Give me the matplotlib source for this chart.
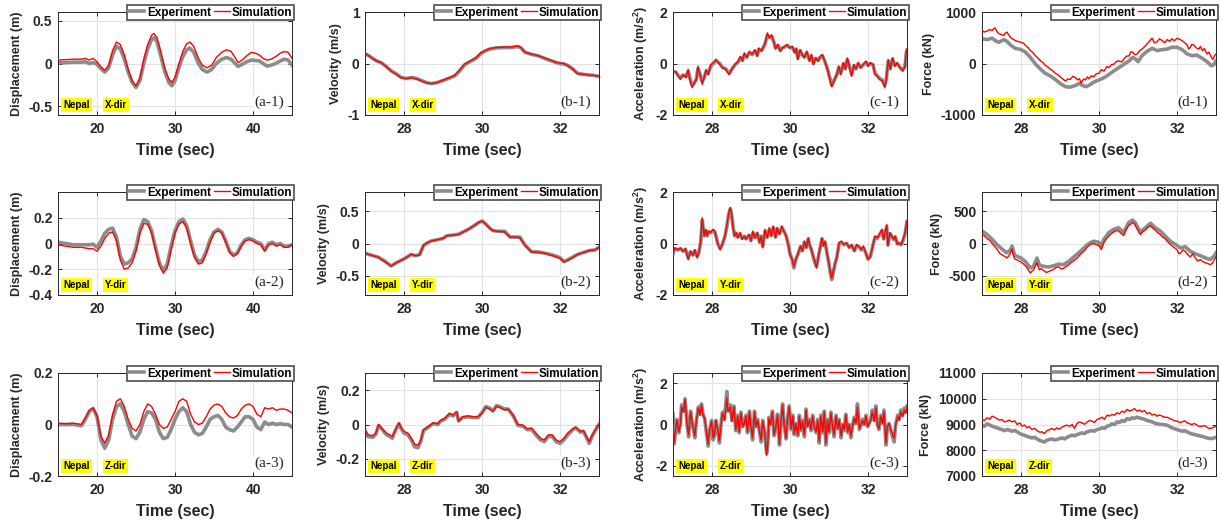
import matplotlib
matplotlib.use('Agg')
import matplotlib.pyplot as plt
from matplotlib.ticker import FuncFormatter

plt.rcParams['font.family'] = ['Liberation Sans', 'DejaVu Sans']
plt.rcParams['font.weight'] = 'bold'
plt.rcParams['axes.labelweight'] = 'bold'
plt.rcParams['axes.unicode_minus'] = False
plt.rcParams['mathtext.fontset'] = 'custom'
plt.rcParams['mathtext.bf'] = 'Liberation Sans:bold'
plt.rcParams['mathtext.default'] = 'bf'

# ---------------- data ----------------
# displacement, X dir
t_a1 = [15, 16, 17, 18, 18.5, 19, 19.5, 20, 20.5, 21, 21.5, 22, 22.5, 23, 23.5, 24, 24.5, 25, 25.5,
        26, 26.5, 27, 27.3, 27.7, 28.2, 28.7, 29.2, 29.6, 30, 30.5, 31, 31.5, 31.9, 32.4, 33, 33.5,
        34.1, 34.7, 35.3, 36, 36.6, 37.2, 37.7, 38.1, 38.6, 39.2, 39.8, 40.3, 40.8, 41.3, 41.8, 42.3,
        42.9, 43.5, 44, 44.5, 45]
exp_a1 = [0.01, 0.01, 0.015, 0.015, 0.02, 0.0, 0.01, -0.01, -0.06, -0.1, -0.05, 0.1, 0.2, 0.17, 0.05,
          -0.1, -0.22, -0.28, -0.2, 0.0, 0.17, 0.28, 0.3, 0.25, 0.08, -0.1, -0.22, -0.26, -0.2, -0.05,
          0.08, 0.16, 0.18, 0.13, 0.0, -0.07, -0.1, -0.07, 0.0, 0.05, 0.07, 0.05, 0.0, -0.035, -0.01,
          0.02, 0.04, 0.035, 0.03, 0.0, -0.03, -0.02, 0.0, 0.03, 0.05, 0.04, -0.02]
sim_a1 = [0.04, 0.045, 0.05, 0.05, 0.06, 0.04, 0.06, 0.02, -0.04, -0.08, -0.02, 0.15, 0.25, 0.22, 0.1,
          -0.07, -0.2, -0.26, -0.17, 0.05, 0.22, 0.33, 0.35, 0.3, 0.13, -0.06, -0.18, -0.22, -0.16, 0.0,
          0.14, 0.23, 0.25, 0.2, 0.06, -0.02, -0.05, -0.02, 0.07, 0.13, 0.16, 0.14, 0.07, 0.01, 0.04,
          0.09, 0.13, 0.12, 0.1, 0.06, 0.04, 0.05, 0.08, 0.12, 0.14, 0.13, 0.06]

# displacement, Y and Z dir
t_a23 = [15, 16, 17, 18, 18.5, 19, 19.5, 20, 20.5, 21, 21.5, 22, 22.5, 23, 23.5, 24, 24.5, 25, 25.5,
         26, 26.5, 27, 27.5, 28, 28.5, 29, 29.5, 30, 30.5, 31, 31.5, 32, 32.5, 33, 33.5, 34, 34.5,
         35, 35.5, 36, 36.5, 37, 37.5, 38, 38.5, 39, 39.5, 40, 40.5, 41, 41.5, 42, 42.5, 43, 43.5,
         44, 44.5, 45]
exp_a2 = [0.01, 0.0, -0.01, -0.01, -0.01, -0.01, -0.005, -0.03, 0.02, 0.08, 0.11, 0.12, 0.05, -0.1,
          -0.16, -0.15, -0.12, -0.03, 0.11, 0.185, 0.17, 0.1, -0.03, -0.15, -0.21, -0.16, -0.02, 0.1,
          0.17, 0.19, 0.14, 0.02, -0.09, -0.14, -0.13, -0.06, 0.03, 0.09, 0.11, 0.09, 0.02, -0.06,
          -0.09, -0.07, -0.01, 0.03, 0.04, 0.03, 0.01, 0.0, -0.05, 0.0, 0.01, -0.01, 0.0, -0.02,
          -0.02, -0.01]
sim_a2 = [-0.01, -0.02, -0.03, -0.03, -0.035, -0.04, -0.04, -0.06, -0.02, 0.04, 0.08, 0.09, 0.02, -0.13,
          -0.2, -0.19, -0.15, -0.06, 0.08, 0.155, 0.15, 0.08, -0.05, -0.17, -0.23, -0.19, -0.05, 0.08,
          0.15, 0.17, 0.12, 0.0, -0.11, -0.16, -0.15, -0.08, 0.01, 0.08, 0.1, 0.08, 0.01, -0.07,
          -0.1, -0.08, -0.02, 0.02, 0.03, 0.02, 0.0, -0.01, -0.06, -0.01, 0.0, -0.02, -0.01, -0.03,
          -0.03, -0.01]
exp_a3 = [0.0, 0.0, 0.0, -0.005, 0.02, 0.05, 0.062, 0.03, -0.06, -0.092, -0.06, 0.02, 0.07, 0.08, 0.05,
          0.0, -0.045, -0.055, -0.03, 0.02, 0.05, 0.045, 0.02, -0.03, -0.055, -0.05, -0.02, 0.02, 0.05,
          0.065, 0.05, 0.0, -0.03, -0.04, -0.035, -0.01, 0.02, 0.03, 0.035, 0.02, -0.01, -0.02, -0.025,
          -0.01, 0.01, 0.03, 0.03, 0.02, -0.01, -0.02, 0.01, 0.0, 0.005, 0.0, 0.003, 0.0, 0.0, -0.01]
sim_a3 = [0.005, 0.003, 0.005, 0.0, 0.025, 0.055, 0.065, 0.035, -0.045, -0.072, -0.04, 0.04, 0.09, 0.1,
          0.07, 0.02, -0.015, -0.025, 0.0, 0.05, 0.08, 0.07, 0.04, 0.0, -0.015, -0.01, 0.02, 0.05, 0.09,
          0.1, 0.09, 0.04, 0.01, 0.0, 0.005, 0.03, 0.06, 0.075, 0.08, 0.07, 0.045, 0.03, 0.025, 0.035,
          0.06, 0.075, 0.08, 0.07, 0.04, 0.03, 0.065, 0.06, 0.065, 0.055, 0.06, 0.06, 0.055, 0.045]

# velocity
t_b1 = [27.0, 27.1, 27.2, 27.3, 27.42, 27.55, 27.67, 27.8, 27.93, 28.05, 28.2, 28.32, 28.45, 28.58,
        28.7, 28.85, 29.04, 29.18, 29.3, 29.42, 29.55, 29.7, 29.85, 29.98, 30.1, 30.2, 30.35, 30.55,
        30.75, 30.92, 31.0, 31.1, 31.25, 31.44, 31.6, 31.78, 31.9, 32.0, 32.1, 32.2, 32.32, 32.45,
        32.6, 32.7, 32.85, 33.0]
exp_b1 = [0.19, 0.15, 0.1, 0.05, 0.01, -0.06, -0.14, -0.2, -0.27, -0.29, -0.27, -0.29, -0.33, -0.37,
          -0.39, -0.37, -0.32, -0.28, -0.24, -0.15, -0.03, 0.04, 0.1, 0.2, 0.25, 0.28, 0.3, 0.31, 0.31,
          0.33, 0.3, 0.22, 0.18, 0.15, 0.1, 0.05, 0.02, 0.0, -0.01, -0.04, -0.1, -0.19, -0.21, -0.22,
          -0.23, -0.25]
sim_b1 = [0.2, 0.15, 0.09, 0.05, 0.02, -0.07, -0.15, -0.21, -0.28, -0.29, -0.28, -0.3, -0.34, -0.38,
          -0.39, -0.37, -0.31, -0.27, -0.23, -0.13, -0.01, 0.05, 0.12, 0.21, 0.26, 0.29, 0.31, 0.32,
          0.32, 0.34, 0.31, 0.22, 0.19, 0.15, 0.11, 0.06, 0.02, 0.01, 0.0, -0.04, -0.11, -0.2, -0.21,
          -0.22, -0.23, -0.25]

t_b2 = [27.0, 27.15, 27.33, 27.5, 27.67, 27.8, 28.0, 28.18, 28.3, 28.4, 28.5, 28.6, 28.7, 28.87, 29.0,
        29.1, 29.25, 29.4, 29.52, 29.65, 29.78, 29.9, 30.0, 30.1, 30.2, 30.28, 30.4, 30.58, 30.66,
        30.72, 30.85, 30.97, 31.1, 31.27, 31.45, 31.6, 31.75, 31.87, 32.0, 32.1, 32.27, 32.45, 32.6,
        32.75, 32.9, 33.0]
exp_b2 = [-0.15, -0.18, -0.21, -0.27, -0.35, -0.3, -0.24, -0.17, -0.19, -0.17, -0.03, 0.01, 0.04, 0.06,
          0.08, 0.12, 0.13, 0.145, 0.18, 0.22, 0.27, 0.32, 0.35, 0.3, 0.24, 0.2, 0.19, 0.19, 0.14, 0.1,
          0.1, 0.1, -0.02, -0.13, -0.13, -0.15, -0.17, -0.19, -0.22, -0.28, -0.23, -0.17, -0.14,
          -0.11, -0.1, -0.06]
sim_b2 = [-0.15, -0.18, -0.21, -0.28, -0.35, -0.3, -0.24, -0.17, -0.19, -0.18, -0.03, 0.01, 0.04, 0.06,
          0.08, 0.12, 0.13, 0.14, 0.18, 0.22, 0.27, 0.32, 0.35, 0.3, 0.23, 0.2, 0.19, 0.18, 0.13, 0.1,
          0.1, 0.09, -0.03, -0.13, -0.14, -0.15, -0.18, -0.2, -0.23, -0.29, -0.24, -0.17, -0.14,
          -0.11, -0.1, -0.06]

t_b3 = [27.0, 27.07, 27.2, 27.28, 27.35, 27.46, 27.55, 27.63, 27.7, 27.78,
        27.87, 27.93, 28.0, 28.1, 28.2, 28.27, 28.36, 28.43, 28.5, 28.6,
        28.66, 28.75, 28.87, 28.94, 29.04, 29.17, 29.26, 29.35, 29.4, 29.5,
        29.64, 29.77, 29.9, 30.0, 30.1, 30.2, 30.28, 30.37, 30.45, 30.58,
        30.67, 30.8, 30.92, 31.05, 31.16, 31.27, 31.4, 31.5, 31.6, 31.7,
        31.8, 31.9, 32.0, 32.1, 32.2, 32.33, 32.4, 32.53, 32.6, 32.75,
        32.83, 32.92, 33.0]
exp_b3 = [-0.035, -0.07, -0.075, -0.055, -0.005, -0.035, -0.06, -0.07, -0.08, -0.035,
          0.005, -0.025, -0.05, -0.06, -0.095, -0.13, -0.135, -0.1, -0.035, -0.02,
          -0.01, 0.005, 0.0, 0.02, 0.03, 0.06, 0.05, 0.07, 0.02, 0.04,
          0.045, 0.04, 0.04, 0.07, 0.105, 0.095, 0.08, 0.11, 0.105, 0.09,
          0.09, 0.05, -0.005, -0.01, -0.03, -0.03, -0.065, -0.09, -0.1, -0.07,
          -0.07, -0.1, -0.11, -0.09, -0.06, -0.03, -0.02, -0.045, -0.04, -0.11,
          -0.065, -0.03, 0.0]
sim_b3 = [-0.03, -0.06, -0.065, -0.05, 0.0, -0.03, -0.05, -0.06, -0.07, -0.03,
          0.01, -0.02, -0.04, -0.05, -0.085, -0.115, -0.12, -0.09, -0.03, -0.015,
          -0.005, 0.01, 0.005, 0.025, 0.035, 0.065, 0.055, 0.075, 0.02, 0.045,
          0.05, 0.045, 0.045, 0.065, 0.1, 0.09, 0.075, 0.105, 0.1, 0.085,
          0.09, 0.055, 0.0, -0.004, -0.025, -0.02, -0.055, -0.08, -0.09, -0.06,
          -0.06, -0.09, -0.1, -0.08, -0.05, -0.025, -0.015, -0.04, -0.035, -0.1,
          -0.06, -0.025, 0.0]

# acceleration
t_c1 = [27.0, 27.08, 27.13, 27.19, 27.26, 27.33, 27.39, 27.43, 27.49, 27.55,
        27.6, 27.64, 27.7, 27.75, 27.8, 27.85, 27.9, 27.97, 28.07, 28.1,
        28.2, 28.27, 28.35, 28.44, 28.5, 28.59, 28.67, 28.73, 28.78, 28.83,
        28.89, 28.96, 29.03, 29.1, 29.16, 29.2, 29.27, 29.36, 29.42, 29.47,
        29.53, 29.59, 29.63, 29.69, 29.75, 29.8, 29.87, 29.93, 29.99, 30.06,
        30.12, 30.16, 30.2, 30.26, 30.31, 30.37, 30.43, 30.5, 30.55, 30.6,
        30.66, 30.72, 30.78, 30.83, 30.89, 30.96, 31.03, 31.07, 31.13, 31.2,
        31.25, 31.3, 31.37, 31.42, 31.47, 31.52, 31.58, 31.64, 31.69, 31.75,
        31.81, 31.88, 31.95, 32.0, 32.06, 32.13, 32.18, 32.24, 32.3, 32.37,
        32.43, 32.47, 32.52, 32.57, 32.63, 32.69, 32.75, 32.82, 32.89, 32.95,
        32.98, 33.0]
exp_c1 = [-0.3, -0.35, -0.45, -0.55, -0.45, -0.5, -0.3, -0.55, -0.85, -0.75,
          -0.6, -0.2, -0.45, -0.7, -0.55, -0.3, -0.4, -0.1, 0.05, 0.12,
          0.0, -0.15, -0.2, -0.38, -0.25, -0.05, 0.05, 0.22, 0.12, 0.35,
          0.25, 0.42, 0.35, 0.48, 0.32, 0.55, 0.5, 0.75, 1.1, 1.0,
          1.05, 0.82, 0.6, 0.7, 0.5, 0.6, 0.65, 0.7, 0.62, 0.62,
          0.45, 0.55, 0.2, 0.5, 0.35, 0.25, 0.42, 0.12, 0.3, 0.0,
          0.2, 0.12, 0.25, 0.3, 0.1, -0.2, -0.6, -0.85, -0.65, -0.45,
          -0.15, -0.38, 0.0, -0.2, 0.15, -0.1, -0.42, -0.08, -0.2, 0.0,
          -0.15, -0.05, 0.05, -0.08, 0.0, -0.05, -0.38, -0.48, -0.58, -0.65,
          -0.85, -0.6, 0.1, -0.2, 0.18, -0.08, 0.0, -0.15, -0.25, -0.12,
          0.4, 0.5]
sim_c1 = [-0.3, -0.33, -0.5, -0.62, -0.43, -0.55, -0.23, -0.62, -0.94, -0.75,
          -0.62, -0.1, -0.5, -0.81, -0.55, -0.23, -0.43, -0.04, 0.09, 0.15,
          -0.04, -0.17, -0.23, -0.43, -0.23, -0.04, 0.09, 0.28, 0.09, 0.41,
          0.22, 0.48, 0.35, 0.54, 0.28, 0.6, 0.48, 0.8, 1.19, 1.0,
          1.12, 0.8, 0.57, 0.74, 0.48, 0.6, 0.67, 0.74, 0.6, 0.67,
          0.41, 0.6, 0.15, 0.54, 0.35, 0.22, 0.48, 0.09, 0.35, -0.04,
          0.22, 0.09, 0.28, 0.35, 0.09, -0.23, -0.68, -0.9, -0.68, -0.43,
          -0.1, -0.43, 0.03, -0.23, 0.22, -0.1, -0.5, -0.04, -0.23, 0.03,
          -0.17, -0.04, 0.09, -0.1, 0.03, -0.04, -0.43, -0.5, -0.62, -0.68,
          -0.94, -0.62, 0.15, -0.23, 0.22, -0.1, 0.03, -0.17, -0.3, -0.1,
          0.48, 0.57]

t_c2 = [27.0, 27.04, 27.13, 27.19, 27.26, 27.32, 27.39, 27.45, 27.51, 27.56,
        27.62, 27.67, 27.71, 27.75, 27.8, 27.84, 27.88, 27.91, 27.96, 28.03,
        28.07, 28.1, 28.15, 28.21, 28.26, 28.33, 28.38, 28.43, 28.47, 28.5,
        28.54, 28.58, 28.62, 28.66, 28.72, 28.77, 28.83, 28.87, 28.95, 29.0,
        29.05, 29.1, 29.16, 29.22, 29.26, 29.3, 29.36, 29.42, 29.47, 29.52,
        29.57, 29.63, 29.67, 29.73, 29.79, 29.84, 29.9, 29.96, 30.0, 30.06,
        30.1, 30.15, 30.21, 30.27, 30.32, 30.37, 30.42, 30.47, 30.5, 30.55,
        30.6, 30.65, 30.68, 30.73, 30.78, 30.82, 30.86, 30.9, 30.95, 31.0,
        31.04, 31.07, 31.12, 31.16, 31.2, 31.26, 31.32, 31.38, 31.45, 31.52,
        31.58, 31.65, 31.71, 31.78, 31.83, 31.88, 31.94, 32.0, 32.06, 32.12,
        32.18, 32.24, 32.29, 32.36, 32.4, 32.48, 32.51, 32.56, 32.61, 32.66,
        32.7, 32.75, 32.8, 32.85, 32.9, 32.95, 33.0]
exp_c2 = [-0.4, -0.2, -0.25, -0.2, -0.3, -0.22, -0.55, -0.32, -0.45, -0.28,
          -0.5, -0.3, 0.05, 0.9, 0.3, 0.5, 0.3, 0.45, 0.42, 0.5,
          0.45, 0.3, 0.0, -0.2, -0.05, 0.25, 0.65, 1.15, 1.35, 1.15,
          0.65, 0.3, 0.4, 0.25, 0.38, 0.2, 0.28, 0.18, 0.32, 0.12,
          0.42, 0.22, 0.4, 0.05, 0.28, -0.1, 0.48, 0.25, 0.55, 0.3,
          0.62, 0.25, 0.58, 0.38, 0.62, 0.5, 0.3, -0.05, -0.4, -0.65,
          -0.95, -0.6, -0.4, -0.12, -0.28, 0.05, -0.15, 0.18, -0.05, -0.25,
          -0.55, -0.8, -0.9, -0.5, -0.12, 0.18, -0.08, 0.05, -0.4, -0.8,
          -1.2, -1.4, -1.05, -0.75, -0.55, 0.0, 0.05, -0.05, 0.0, -0.15,
          -0.08, -0.28, -0.08, -0.15, -0.25, -0.15, -0.35, -0.6, -0.52, -0.12,
          0.25, 0.2, 0.32, 0.5, 0.18, 0.65, -0.05, 0.38, 0.28, 0.15,
          0.25, 0.0, 0.0, -0.05, 0.12, 0.38, 0.85]
sim_c2 = [-0.43, -0.17, -0.24, -0.17, -0.3, -0.2, -0.63, -0.3, -0.47, -0.24,
          -0.56, -0.3, 0.09, 1.0, 0.29, 0.55, 0.29, 0.49, 0.42, 0.55,
          0.49, 0.29, -0.04, -0.24, -0.04, 0.29, 0.68, 1.2, 1.4, 1.14,
          0.61, 0.29, 0.42, 0.22, 0.42, 0.16, 0.29, 0.16, 0.35, 0.09,
          0.48, 0.22, 0.42, 0.03, 0.29, -0.17, 0.55, 0.22, 0.61, 0.29,
          0.68, 0.22, 0.61, 0.35, 0.68, 0.48, 0.29, -0.1, -0.43, -0.63,
          -0.89, -0.63, -0.37, -0.1, -0.3, 0.09, -0.17, 0.22, -0.04, -0.24,
          -0.5, -0.76, -0.95, -0.5, -0.1, 0.22, -0.1, 0.09, -0.37, -0.76,
          -1.15, -1.35, -1.0, -0.76, -0.56, 0.03, 0.09, -0.04, 0.03, -0.17,
          -0.04, -0.3, -0.04, -0.13, -0.24, -0.1, -0.37, -0.63, -0.5, -0.1,
          0.29, 0.22, 0.35, 0.55, 0.16, 0.74, -0.1, 0.42, 0.29, 0.16,
          0.29, -0.04, 0.03, -0.04, 0.16, 0.42, 0.88]

t_c3 = [27.0, 27.03, 27.06, 27.1, 27.15, 27.19, 27.22, 27.27, 27.31, 27.36,
        27.4, 27.45, 27.5, 27.56, 27.6, 27.65, 27.69, 27.73, 27.77, 27.81,
        27.86, 27.9, 27.94, 27.99, 28.03, 28.07, 28.1, 28.15, 28.19, 28.23,
        28.27, 28.32, 28.38, 28.41, 28.47, 28.51, 28.56, 28.61, 28.66, 28.7,
        28.74, 28.79, 28.83, 28.87, 28.91, 28.96, 29.0, 29.04, 29.09, 29.13,
        29.17, 29.22, 29.26, 29.3, 29.35, 29.4, 29.43, 29.46, 29.5, 29.55,
        29.59, 29.63, 29.68, 29.73, 29.77, 29.81, 29.85, 29.9, 29.94, 29.98,
        30.03, 30.07, 30.11, 30.15, 30.2, 30.24, 30.28, 30.32, 30.37, 30.41,
        30.45, 30.5, 30.54, 30.58, 30.62, 30.67, 30.71, 30.75, 30.79, 30.84,
        30.88, 30.92, 30.96, 31.0, 31.05, 31.09, 31.13, 31.18, 31.22, 31.26,
        31.31, 31.35, 31.39, 31.43, 31.48, 31.52, 31.56, 31.61, 31.65, 31.69,
        31.73, 31.78, 31.82, 31.86, 31.9, 31.95, 31.99, 32.03, 32.07, 32.11,
        32.16, 32.2, 32.24, 32.28, 32.33, 32.37, 32.41, 32.46, 32.5, 32.54,
        32.58, 32.63, 32.67, 32.71, 32.76, 32.8, 32.84, 32.89, 32.93, 32.97,
        33.0]
exp_c3 = [0.5, -0.95, -0.4, 0.25, -0.4, 0.05, 0.95, 0.65, 1.25, 0.05,
          -0.6, 0.65, 0.0, -0.65, 0.2, 0.85, 0.5, 1.0, 0.5, 0.3,
          -0.45, -1.05, -0.3, 0.2, -0.75, -0.5, 0.2, -0.3, -0.9, 0.0,
          0.6, 0.25, 1.6, 0.7, 0.95, 0.2, 0.9, -0.3, 0.45, -0.4,
          0.6, -0.1, 0.1, 0.45, -0.4, 0.65, -0.1, -0.75, 0.65, -0.1,
          0.25, -0.4, -0.85, 0.2, -0.4, -1.4, -1.0, 0.35, 0.0, 0.65,
          -0.55, -0.25, 0.5, -1.0, 0.2, 1.0, 0.0, -0.7, 0.35, 0.9,
          -0.25, 0.45, -0.5, 0.05, -0.55, 0.45, -0.3, 0.2, -0.6, 0.75,
          -0.1, 0.25, -0.3, 0.45, -0.1, -0.4, 0.25, -0.9, 0.45, -0.4,
          0.65, -1.0, 0.25, -0.4, 0.6, -0.1, -0.6, 0.45, -0.2, 0.25,
          -0.65, 0.0, -0.3, 0.5, -0.4, 0.0, -0.65, 0.0, 0.35, 0.05,
          1.0, -0.25, 0.0, 0.25, 0.0, 0.45, -0.1, 0.05, 0.25, 0.7,
          0.2, 0.9, 0.0, -0.25, 0.45, 0.05, 0.7, -1.0, -0.1, 0.05,
          -0.25, -0.6, -0.85, 0.0, 0.45, 0.25, 0.7, 0.45, 0.8, 0.6,
          0.9]
sim_c3 = [0.0, -0.85, -0.35, 0.2, -0.35, 0.0, 0.85, 0.6, 1.2, 0.0,
          -0.5, 0.6, 0.0, -0.55, 0.2, 0.8, 0.45, 0.95, 0.45, 0.3,
          -0.35, -0.95, -0.25, 0.15, -0.65, -0.45, 0.2, -0.25, -0.8, 0.0,
          0.55, 0.2, 1.3, 0.6, 0.85, 0.15, 0.85, -0.25, 0.4, -0.35,
          0.55, -0.1, 0.05, 0.4, -0.35, 0.6, -0.1, -0.65, 0.6, -0.1,
          0.2, -0.35, -0.75, 0.15, -0.35, -1.5, -0.95, 0.3, 0.0, 0.6,
          -0.5, -0.2, 0.45, -0.95, 0.2, 0.95, 0.0, -0.65, 0.3, 0.85,
          -0.2, 0.4, -0.45, 0.05, -0.5, 0.4, -0.25, 0.15, -0.5, 0.7,
          -0.1, 0.2, -0.25, 0.4, -0.1, -0.35, 0.2, -0.8, 0.4, -0.35,
          0.6, -0.9, 0.2, -0.35, 0.55, -0.1, -0.5, 0.4, -0.2, 0.2,
          -0.55, 0.0, -0.25, 0.45, -0.35, 0.0, -0.55, 0.0, 0.3, 0.05,
          0.85, -0.2, 0.0, 0.2, 0.0, 0.4, -0.1, 0.05, 0.2, 0.6,
          0.15, 0.8, 0.0, -0.2, 0.4, 0.05, 0.6, -0.9, -0.1, 0.05,
          -0.2, -0.5, -0.65, 0.0, 0.4, 0.2, 0.6, 0.4, 0.7, 0.55,
          0.85]

# base force
t_d1_exp = [27.0, 27.13, 27.26, 27.34, 27.43, 27.56, 27.64, 27.73, 27.85, 28.0, 28.1, 28.24, 28.37,
            28.5, 28.62, 28.75, 28.88, 29.0, 29.14, 29.26, 29.4, 29.5, 29.57, 29.67, 29.74, 29.87,
            30.0, 30.13, 30.26, 30.38, 30.51, 30.64, 30.77, 30.87, 30.94, 31.0, 31.1, 31.23, 31.36,
            31.49, 31.62, 31.75, 31.87, 32.0, 32.13, 32.26, 32.39, 32.5, 32.65, 32.77, 32.88, 32.96,
            33.0]
exp_d1 = [480, 465, 490, 445, 410, 465, 430, 360, 295, 270, 230, 120, -10, -110, -190, -240, -310,
          -385, -450, -460, -425, -385, -425, -450, -425, -360, -320, -275, -210, -145, -80, -15,
          50, 120, 85, 35, 150, 235, 295, 250, 270, 280, 315, 315, 270, 185, 150, 165, 100, 35,
          -45, -15, 50]
t_d1_sim = [27.0, 27.06, 27.13, 27.2, 27.26, 27.3, 27.34, 27.38, 27.43, 27.5,
            27.56, 27.6, 27.64, 27.68, 27.71, 27.74, 27.77, 27.81, 27.85, 27.92,
            28.0, 28.06, 28.12, 28.18, 28.24, 28.3, 28.37, 28.43, 28.5, 28.56,
            28.62, 28.68, 28.75, 28.81, 28.88, 28.94, 29.0, 29.07, 29.14, 29.2,
            29.26, 29.33, 29.4, 29.45, 29.5, 29.54, 29.57, 29.61, 29.65, 29.7,
            29.74, 29.8, 29.87, 29.93, 30.0, 30.06, 30.13, 30.2, 30.26, 30.32,
            30.38, 30.45, 30.51, 30.58, 30.64, 30.7, 30.77, 30.82, 30.87, 30.92,
            30.98, 31.04, 31.1, 31.16, 31.23, 31.3, 31.36, 31.42, 31.49, 31.55,
            31.62, 31.68, 31.75, 31.81, 31.87, 31.93, 32.0, 32.06, 32.13, 32.2,
            32.26, 32.3, 32.34, 32.38, 32.43, 32.5, 32.56, 32.6, 32.65, 32.7,
            32.77, 32.82, 32.88, 32.92, 32.96, 33.0]
sim_d1 = [640, 610, 630, 660, 640, 675, 690, 620, 580, 560,
          545, 590, 610, 560, 530, 500, 480, 470, 445, 430,
          410, 395, 350, 310, 250, 215, 150, 110, 50, 20,
          -35, -60, -110, -140, -190, -215, -255, -300, -340, -300,
          -310, -250, -275, -320, -295, -380, -340, -300, -320, -260,
          -295, -240, -255, -200, -190, -120, -145, -60, -80, -20,
          -15, 40, 50, 30, 85, 140, 150, 230, 215, 170,
          185, 250, 280, 320, 380, 440, 490, 400, 425, 480,
          445, 400, 465, 430, 480, 440, 490, 470, 445, 400,
          360, 280, 315, 370, 360, 300, 280, 330, 250, 290,
          185, 220, 120, 80, 150, 185]

t_d2_exp = [27.0, 27.13, 27.26, 27.38, 27.51, 27.64, 27.73, 27.77, 27.84, 28.0, 28.11, 28.24, 28.32,
            28.41, 28.47, 28.58, 28.71, 28.84, 28.97, 29.09, 29.22, 29.35, 29.48, 29.61, 29.74, 29.86,
            29.99, 30.06, 30.12, 30.25, 30.38, 30.5, 30.63, 30.76, 30.86, 30.93, 31.06, 31.19, 31.32,
            31.44, 31.57, 31.7, 31.83, 32.0, 32.09, 32.21, 32.34, 32.47, 32.6, 32.73, 32.85, 32.96,
            33.0]
exp_d2 = [195, 140, 65, -15, -85, -145, -95, -40, -185, -225, -280, -380, -355, -225, -330, -355,
          -365, -345, -320, -330, -280, -210, -145, -70, 0, 35, 20, -40, 60, 170, 220, 245, 170, 325,
          365, 325, 180, 245, 315, 245, 195, 115, 35, -30, -70, -50, -120, -160, -190, -225, -250,
          -190, -145]
t_d2_sim = [27.0, 27.06, 27.13, 27.2, 27.26, 27.32, 27.38, 27.45, 27.51, 27.58,
            27.64, 27.69, 27.73, 27.77, 27.8, 27.84, 27.92, 28.0, 28.05, 28.11,
            28.18, 28.24, 28.28, 28.32, 28.37, 28.41, 28.44, 28.47, 28.52, 28.58,
            28.65, 28.71, 28.78, 28.84, 28.9, 28.97, 29.03, 29.09, 29.15, 29.22,
            29.28, 29.35, 29.41, 29.48, 29.55, 29.61, 29.68, 29.74, 29.8, 29.86,
            29.93, 29.99, 30.03, 30.06, 30.09, 30.12, 30.18, 30.25, 30.31, 30.38,
            30.44, 30.5, 30.56, 30.63, 30.7, 30.76, 30.81, 30.86, 30.9, 30.93,
            31.0, 31.06, 31.12, 31.19, 31.25, 31.32, 31.38, 31.44, 31.5, 31.57,
            31.63, 31.7, 31.76, 31.83, 31.9, 32.0, 32.05, 32.09, 32.15, 32.21,
            32.27, 32.34, 32.4, 32.47, 32.53, 32.6, 32.66, 32.73, 32.79, 32.85,
            32.9, 32.96, 33.0]
sim_d2 = [140, 120, 75, 50, 0, -40, -85, -150, -175, -200,
          -225, -190, -145, -85, -180, -240, -260, -290, -310, -345,
          -400, -460, -430, -410, -350, -300, -360, -410, -390, -420,
          -450, -435, -415, -400, -370, -365, -395, -385, -360, -330,
          -300, -265, -240, -200, -150, -120, -70, -30, -10, 0,
          -20, -30, -60, -95, -40, 10, 70, 115, 150, 180,
          200, 195, 160, 125, 220, 280, 300, 325, 310, 280,
          200, 140, 180, 210, 250, 275, 240, 210, 170, 140,
          100, 75, 30, -15, -50, -95, -160, -145, -100, -120,
          -170, -210, -160, -225, -270, -250, -280, -300, -310, -330,
          -310, -250, -210]

t_d3 = [27.0, 27.06, 27.13, 27.2, 27.26, 27.32, 27.38, 27.45, 27.51, 27.58,
        27.64, 27.7, 27.77, 27.84, 27.9, 27.97, 28.03, 28.09, 28.15, 28.21,
        28.28, 28.35, 28.41, 28.48, 28.54, 28.6, 28.67, 28.73, 28.79, 28.86,
        28.92, 28.98, 29.05, 29.12, 29.18, 29.25, 29.31, 29.37, 29.44, 29.5,
        29.56, 29.63, 29.69, 29.76, 29.82, 29.88, 29.95, 30.02, 30.08, 30.14,
        30.21, 30.27, 30.33, 30.4, 30.46, 30.52, 30.59, 30.65, 30.72, 30.78,
        30.85, 30.91, 30.97, 31.04, 31.1, 31.17, 31.23, 31.3, 31.36, 31.42,
        31.49, 31.55, 31.62, 31.68, 31.74, 31.8, 31.87, 31.93, 32.0, 32.07,
        32.13, 32.2, 32.26, 32.32, 32.38, 32.45, 32.51, 32.58, 32.64, 32.7,
        32.77, 32.83, 32.9, 32.95, 33.0]
exp_d3 = [8975, 8930, 9025, 8980, 8935, 8900, 8870, 8830, 8805, 8760,
          8805, 8780, 8740, 8770, 8715, 8650, 8610, 8580, 8545, 8510,
          8480, 8500, 8440, 8380, 8350, 8320, 8390, 8420, 8440, 8400,
          8415, 8450, 8480, 8440, 8505, 8550, 8585, 8560, 8610, 8640,
          8675, 8650, 8715, 8740, 8765, 8740, 8805, 8830, 8870, 8850,
          8935, 8960, 9025, 9000, 9100, 9080, 9155, 9120, 9230, 9200,
          9260, 9240, 9285, 9250, 9230, 9200, 9155, 9130, 9100, 9060,
          9025, 9010, 9000, 8990, 8975, 8930, 8870, 8840, 8805, 8770,
          8740, 8760, 8715, 8670, 8635, 8610, 8585, 8560, 8545, 8510,
          8480, 8460, 8455, 8480, 8505]
sim_d3 = [9195, 9150, 9260, 9210, 9325, 9280, 9230, 9170, 9195, 9100,
          9130, 9170, 9100, 9140, 9000, 9060, 8935, 8980, 8870, 8920,
          8805, 8850, 8765, 8700, 8715, 8650, 8765, 8800, 8845, 8790,
          8870, 8820, 8895, 8950, 8975, 8930, 9000, 8850, 9050, 9100,
          9065, 9010, 9090, 9160, 9130, 9080, 9195, 9230, 9285, 9200,
          9365, 9330, 9390, 9360, 9455, 9410, 9520, 9470, 9585, 9530,
          9560, 9620, 9520, 9560, 9495, 9540, 9415, 9460, 9365, 9400,
          9325, 9370, 9325, 9280, 9285, 9240, 9195, 9150, 9130, 9080,
          9100, 9140, 9065, 9030, 9000, 9040, 8975, 8920, 8935, 8960,
          8895, 8840, 8870, 8900, 8935]

# ---------------- drawing ----------------
GRAY = '#8c8c8c'
INK = '#262626'
W, H = 1221, 525
lefts = [58, 365, 673, 982]
tops = [12, 192, 373]
aw, ah = 234, 103

fig = plt.figure(figsize=(W / 100, H / 100), dpi=100)


def panel(row, col, te, ye, ts, ys, xlim, xticks, ylim, yticks, ylabel, tag, dirn):
    ax = fig.add_axes([lefts[col] / W, 1 - (tops[row] + ah) / H, aw / W, ah / H])
    ax.plot(te, ye, color=GRAY, lw=2.6, label='Experiment', zorder=2)
    ax.plot(ts, ys, color='red', lw=1.0, label='Simulation', zorder=3)
    ax.set_xlim(*xlim)
    ax.set_ylim(*ylim)
    ax.set_xticks(xticks)
    ax.set_yticks(yticks)
    fmt = FuncFormatter(lambda v, p: '%g' % v)
    ax.xaxis.set_major_formatter(fmt)
    ax.yaxis.set_major_formatter(fmt)
    ax.grid(True, color='#e2e2e2', lw=0.8)
    ax.set_axisbelow(True)
    ax.tick_params(direction='in', length=3, width=0.7, top=True, right=True,
                   labelsize=10, labelcolor=INK, color=INK, pad=4)
    ax.tick_params(axis='x', pad=5)
    for lab in ax.get_xticklabels() + ax.get_yticklabels():
        lab.set_fontweight('bold')
    for s in ax.spines.values():
        s.set_color(INK)
        s.set_linewidth(0.7)
    ax.set_xlabel('Time (sec)', fontsize=11.5, fontweight='bold', color=INK, labelpad=5)
    ax.set_ylabel(ylabel, fontsize=9, fontweight='bold', color=INK, labelpad=4)
    leg = ax.legend(loc='upper right', bbox_to_anchor=(1.01, 1.07), ncol=2, fontsize=8.5,
                    frameon=True, fancybox=False, edgecolor='#4d4d4d', framealpha=1,
                    borderpad=0.15, handlelength=1.3, handletextpad=0.2, columnspacing=0.3,
                    borderaxespad=0)
    leg.get_frame().set_linewidth(1.2)
    ax.text(0.022, 0.1, 'Nepal', transform=ax.transAxes, fontsize=7, va='center', color='black',
            bbox=dict(facecolor='yellow', edgecolor='none', pad=1.5), zorder=5)
    ax.text(0.2, 0.1, dirn, transform=ax.transAxes, fontsize=7, va='center', color='black',
            bbox=dict(facecolor='yellow', edgecolor='none', pad=1.5), zorder=5)
    ax.text(0.965, 0.12, tag, transform=ax.transAxes, fontsize=11, ha='right', va='center',
            family='Liberation Serif', fontweight='normal', color=INK,
            bbox=dict(facecolor='white', edgecolor='none', pad=1), zorder=5)
    return ax


xa, xta = (15, 45), [20, 30, 40]
xb, xtb = (27, 33), [28, 30, 32]
acc = 'Acceleration (m/s$^2$)'

panel(0, 0, t_a1, exp_a1, t_a1, sim_a1, xa, xta, (-0.6, 0.6), [-0.5, 0, 0.5], 'Displacement (m)', '(a-1)', 'X-dir')
panel(1, 0, t_a23, exp_a2, t_a23, sim_a2, xa, xta, (-0.4, 0.4), [-0.4, -0.2, 0, 0.2], 'Displacement (m)', '(a-2)', 'Y-dir')
panel(2, 0, t_a23, exp_a3, t_a23, sim_a3, xa, xta, (-0.2, 0.2), [-0.2, 0, 0.2], 'Displacement (m)', '(a-3)', 'Z-dir')

panel(0, 1, t_b1, exp_b1, t_b1, sim_b1, xb, xtb, (-1, 1), [-1, 0, 1], 'Velocity (m/s)', '(b-1)', 'X-dir')
panel(1, 1, t_b2, exp_b2, t_b2, sim_b2, xb, xtb, (-0.8, 0.8), [-0.5, 0, 0.5], 'Velocity (m/s)', '(b-2)', 'Y-dir')
panel(2, 1, t_b3, exp_b3, t_b3, sim_b3, xb, xtb, (-0.3, 0.3), [-0.2, 0, 0.2], 'Velocity (m/s)', '(b-3)', 'Z-dir')

panel(0, 2, t_c1, exp_c1, t_c1, sim_c1, xb, xtb, (-2, 2), [-2, 0, 2], acc, '(c-1)', 'X-dir')
panel(1, 2, t_c2, exp_c2, t_c2, sim_c2, xb, xtb, (-2, 2), [-2, 0, 2], acc, '(c-2)', 'Y-dir')
panel(2, 2, t_c3, exp_c3, t_c3, sim_c3, xb, xtb, (-2.5, 2.5), [-2, 0, 2], acc, '(c-3)', 'Z-dir')

panel(0, 3, t_d1_exp, exp_d1, t_d1_sim, sim_d1, xb, xtb, (-1000, 1000), [-1000, 0, 1000], 'Force (kN)', '(d-1)', 'X-dir')
panel(1, 3, t_d2_exp, exp_d2, t_d2_sim, sim_d2, xb, xtb, (-800, 800), [-500, 0, 500], 'Force (kN)', '(d-2)', 'Y-dir')
panel(2, 3, t_d3, exp_d3, t_d3, sim_d3, xb, xtb, (7000, 11000), [7000, 8000, 9000, 10000, 11000], 'Force (kN)', '(d-3)', 'Z-dir')

fig.savefig('out.png', dpi=100)
